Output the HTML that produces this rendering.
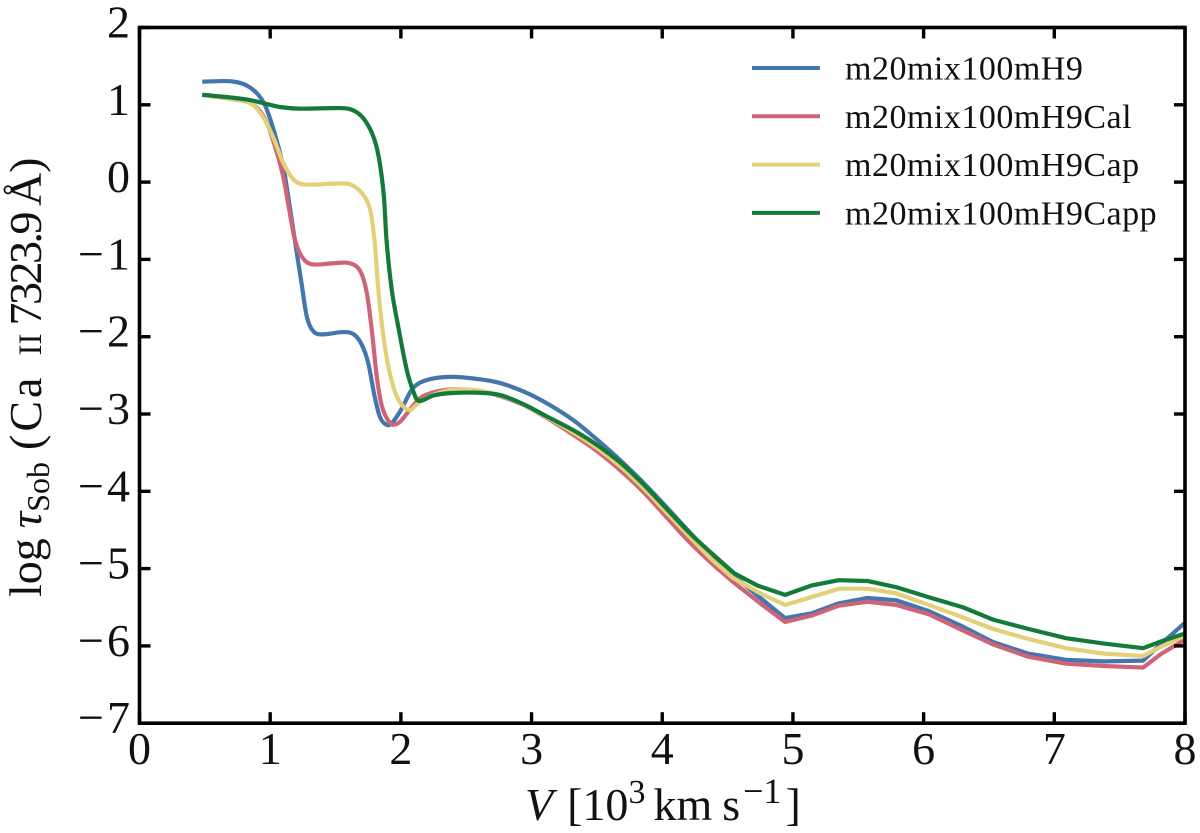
<!DOCTYPE html>
<html lang="en">
<head>
<meta charset="utf-8">
<title>Ca II 7323.9 Sobolev optical depth</title>
<style>
html,body{margin:0;padding:0;background:#fff;width:1200px;height:833px;overflow:hidden}
svg{display:block}
text{font-family:"Liberation Serif",serif;fill:#111}
</style>
</head>
<body>
<svg id="chart" xmlns="http://www.w3.org/2000/svg" width="1200" height="833" viewBox="0 0 1200 833">
  <g id="series-layer"></g>
  <rect x="139.5" y="27.5" width="1045.5" height="695.7" fill="none" stroke="#000" stroke-width="3.6"/>
  <g id="tick-layer"></g>
  <g id="legend-layer"></g>
  <text x="525" y="820" font-size="46"><tspan font-style="italic">V</tspan><tspan dx="14">[10</tspan><tspan font-size="34" dy="-17">3</tspan><tspan dx="8" dy="17">km</tspan><tspan dx="10">s</tspan><tspan font-size="36" dx="3" dy="-17">−1</tspan><tspan dx="4" dy="17">]</tspan></text>
  <text transform="translate(41,597) rotate(-90)" font-size="46">log<tspan dx="10" font-style="italic">τ</tspan><tspan font-size="32" dy="8">Sob</tspan><tspan dx="12" dy="-8" letter-spacing="3">(Ca</tspan><tspan dx="19" font-size="33">II</tspan><tspan dx="8" letter-spacing="-2.5">7323.9</tspan><tspan dx="8">Å)</tspan></text>
</svg>
<script>
const xTicks = [0, 1, 2, 3, 4, 5, 6, 7, 8];
const yTicks = [2, 1, 0, -1, -2, -3, -4, -5, -6, -7];
const seriesNames = ["m20mix100mH9", "m20mix100mH9Cal", "m20mix100mH9Cap", "m20mix100mH9Capp"];
const seriesColors = ["#4476ad", "#cd6478", "#e3d179", "#137a3a"];

const velocityBlue = [0.48,0.72,0.85,0.95,1.02,1.10,1.15,1.20,1.24,1.28,1.33,1.40,1.56,1.64,1.70,1.75,1.80,1.84,1.89,1.93,2.00,2.09,2.20,2.38,2.60,2.76,2.94,3.115,3.32,3.50,3.68,3.85,4.03,4.21,4.39,4.54,4.75,4.94,5.14,5.35,5.57,5.79,6.04,6.30,6.53,6.80,7.09,7.38,7.68,7.82,8.00];
const tauBlue = [1.30,1.30,1.22,1.03,0.71,0.20,-0.32,-0.88,-1.31,-1.74,-1.93,-1.97,-1.94,-1.97,-2.10,-2.34,-2.78,-3.04,-3.14,-3.12,-2.95,-2.67,-2.56,-2.52,-2.55,-2.60,-2.71,-2.86,-3.08,-3.33,-3.60,-3.88,-4.20,-4.53,-4.85,-5.08,-5.38,-5.64,-5.58,-5.45,-5.38,-5.41,-5.55,-5.75,-5.95,-6.10,-6.18,-6.20,-6.19,-5.97,-5.70];

const velocityRed = [0.48,0.72,0.85,0.95,1.03,1.10,1.15,1.19,1.24,1.31,1.485,1.61,1.69,1.74,1.78,1.815,1.855,1.905,1.94,2.00,2.07,2.15,2.25,2.38,2.60,2.76,2.94,3.115,3.32,3.50,3.68,3.85,4.03,4.21,4.39,4.54,4.75,4.94,5.14,5.35,5.57,5.79,6.04,6.30,6.53,6.80,7.09,7.38,7.68,7.82,8.00];
const tauRed = [1.13,1.07,1.02,0.85,0.50,0.07,-0.40,-0.75,-0.96,-1.06,-1.05,-1.05,-1.155,-1.44,-1.95,-2.51,-2.90,-3.09,-3.14,-3.09,-2.94,-2.79,-2.72,-2.685,-2.70,-2.77,-2.885,-3.05,-3.27,-3.48,-3.73,-4.00,-4.33,-4.66,-4.95,-5.17,-5.45,-5.69,-5.61,-5.48,-5.43,-5.47,-5.59,-5.80,-5.98,-6.14,-6.23,-6.26,-6.28,-6.10,-5.92];

const velocityYellow = [0.48,0.72,0.85,0.95,1.03,1.10,1.18,1.255,1.485,1.61,1.70,1.765,1.80,1.83,1.87,1.92,1.98,2.06,2.12,2.15,2.25,2.38,2.60,2.76,2.94,3.115,3.32,3.50,3.68,3.85,4.03,4.21,4.39,4.54,4.75,4.94,5.14,5.35,5.57,5.79,6.04,6.30,6.53,6.80,7.09,7.38,7.68,7.82,8.00];
const tauYellow = [1.13,1.07,1.02,0.83,0.55,0.25,0.03,-0.03,-0.02,-0.03,-0.14,-0.36,-0.79,-1.44,-2.04,-2.51,-2.81,-2.95,-2.88,-2.84,-2.75,-2.69,-2.70,-2.76,-2.88,-3.04,-3.24,-3.44,-3.68,-3.95,-4.27,-4.59,-4.90,-5.12,-5.32,-5.47,-5.37,-5.26,-5.26,-5.32,-5.47,-5.63,-5.78,-5.91,-6.03,-6.10,-6.13,-6.01,-5.87];

const velocityGreen = [0.48,0.72,0.85,0.975,1.08,1.23,1.485,1.61,1.70,1.78,1.83,1.87,1.89,1.93,1.98,2.045,2.10,2.135,2.25,2.38,2.60,2.76,2.94,3.115,3.32,3.50,3.68,3.85,4.03,4.21,4.39,4.55,4.73,4.94,5.14,5.35,5.57,5.79,6.04,6.30,6.53,6.80,7.09,7.38,7.68,7.82,8.00];
const tauGreen = [1.13,1.09,1.06,1.01,0.97,0.95,0.957,0.944,0.85,0.63,0.33,-0.185,-0.75,-1.39,-1.87,-2.43,-2.73,-2.83,-2.76,-2.73,-2.725,-2.755,-2.875,-3.03,-3.21,-3.40,-3.63,-3.90,-4.22,-4.54,-4.82,-5.06,-5.22,-5.34,-5.22,-5.15,-5.16,-5.24,-5.37,-5.50,-5.66,-5.78,-5.90,-5.97,-6.03,-5.94,-5.84];

const velocityArrays = [velocityBlue, velocityRed, velocityYellow, velocityGreen];
const tauArrays = [tauBlue, tauRed, tauYellow, tauGreen];

const SVG_NS = "http://www.w3.org/2000/svg";
const plot = {left: 139.5, right: 1185, top: 27.5, bottom: 723.2};
const xDomain = [0, 8];
const yDomain = [-7, 2];

function xScale(v) {
  return plot.left + (v - xDomain[0]) / (xDomain[1] - xDomain[0]) * (plot.right - plot.left);
}
function yScale(t) {
  return plot.bottom - (t - yDomain[0]) / (yDomain[1] - yDomain[0]) * (plot.bottom - plot.top);
}
function make(tag, attrs, parent) {
  const el = document.createElementNS(SVG_NS, tag);
  for (const k in attrs) el.setAttribute(k, attrs[k]);
  parent.appendChild(el);
  return el;
}
function slopes(vs, ts) {
  return ts.map(function (_, i) {
    const a = Math.max(i - 1, 0);
    const b = Math.min(i + 1, ts.length - 1);
    return (ts[b] - ts[a]) / (vs[b] - vs[a]);
  });
}
function buildPath(vs, ts) {
  const m = slopes(vs, ts);
  let d = "M" + xScale(vs[0]).toFixed(2) + " " + yScale(ts[0]).toFixed(2);
  for (let i = 0; i < vs.length - 1; i++) {
    const h = vs[i + 1] - vs[i];
    if (vs[i + 1] > 4.45) {
      d += "L" + xScale(vs[i + 1]).toFixed(2) + " " + yScale(ts[i + 1]).toFixed(2);
    } else {
      d += "C" + xScale(vs[i] + h / 3).toFixed(2) + " " + yScale(ts[i] + m[i] * h / 3).toFixed(2) +
           " " + xScale(vs[i + 1] - h / 3).toFixed(2) + " " + yScale(ts[i + 1] - m[i + 1] * h / 3).toFixed(2) +
           " " + xScale(vs[i + 1]).toFixed(2) + " " + yScale(ts[i + 1]).toFixed(2);
    }
  }
  return d;
}

const seriesLayer = document.getElementById("series-layer");
seriesNames.forEach(function (name, i) {
  const line = make("path", {d: buildPath(velocityArrays[i], tauArrays[i]), fill: "none", stroke: seriesColors[i], "stroke-width": 4.2, "stroke-linejoin": "round"}, seriesLayer);
  
  
});

const tickLayer = document.getElementById("tick-layer");
const tickLen = 11;
xTicks.forEach(function (v) {
  const x = xScale(v);
  const bottomTick = make("line", {x1: x, x2: x, y1: plot.bottom, y2: plot.bottom - tickLen, stroke: "#000", "stroke-width": 3.4}, tickLayer);
  
  
  const topTick = make("line", {x1: x, x2: x, y1: plot.top, y2: plot.top + tickLen, stroke: "#000", "stroke-width": 3.4}, tickLayer);
  
  
  const label = make("text", {x: x, y: 764, "font-size": 46, "text-anchor": "middle"}, tickLayer);
  
  
  label.textContent = String(v);
});
yTicks.forEach(function (t) {
  const y = yScale(t);
  const leftTick = make("line", {x1: plot.left, x2: plot.left + tickLen, y1: y, y2: y, stroke: "#000", "stroke-width": 3.4}, tickLayer);
  
  
  const rightTick = make("line", {x1: plot.right, x2: plot.right - tickLen, y1: y, y2: y, stroke: "#000", "stroke-width": 3.4}, tickLayer);
  
  
  const label = make("text", {x: 130, y: y + 10, "font-size": 46, "text-anchor": "end"}, tickLayer);
  
  
  if (t < 0) {
    const minus = make("tspan", {}, label);
    minus.textContent = "−";
    const digit = make("tspan", {dx: 3}, label);
    digit.textContent = String(-t);
  } else {
    label.textContent = String(t);
  }
});

const legendLayer = document.getElementById("legend-layer");
const legendSwatchLeft = 752;
const legendSwatchRight = 820;
const legendTextLeft = 845;
const legendFirstY = 68;
const legendStep = 48.3;
seriesNames.forEach(function (name, i) {
  const y = legendFirstY + i * legendStep;
  const swatch = make("line", {x1: legendSwatchLeft, x2: legendSwatchRight, y1: y, y2: y, stroke: seriesColors[i], "stroke-width": 4}, legendLayer);
  
  
  const text = make("text", {x: legendTextLeft, y: y + 11.5, "font-size": 34, "letter-spacing": "0.5"}, legendLayer);
  
  
  text.textContent = name;
});
</script>
</body>
</html>
